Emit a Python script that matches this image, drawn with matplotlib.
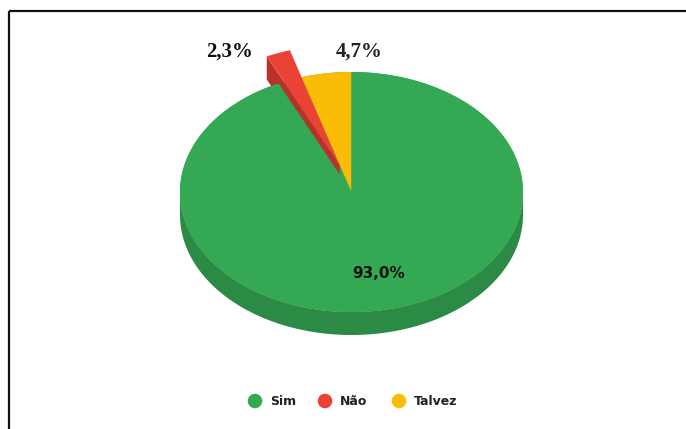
import numpy as np
import matplotlib
matplotlib.use("Agg")
import matplotlib.pyplot as plt
from matplotlib.patches import Polygon

# ---- data ----
labels = ["Sim", "Não", "Talvez"]
values = [93.0, 2.3, 4.7]
pct_labels = ["93,0%", "2,3%", "4,7%"]
explode = [0.0, 0.235, 0.0]
top_colors = ["#34A853", "#EA4335", "#FBBC05"]
side_colors = ["#2B8B45", "#B8322B", "#B98A0C"]

W, H = 686, 429
fig = plt.figure(figsize=(W / 100, H / 100), dpi=100)
ax = fig.add_axes([0, 0, 1, 1])
ax.set_xlim(0, W)
ax.set_ylim(H, 0)
ax.axis("off")

# geometry (pixels)
cx, cy, rx, ry, depth = 351.5, 192.0, 171.5, 120.0, 23.0


def pt(theta_deg, r=1.0, off=(0.0, 0.0), dz=0.0):
    t = np.radians(theta_deg)
    return (cx + rx * (r * np.cos(t) + off[0]),
            cy - ry * (r * np.sin(t) + off[1]) + dz)


def arc(a0, a1, off=(0.0, 0.0), dz=0.0, n=200):
    ts = np.linspace(a0, a1, n)
    return [pt(t, 1.0, off, dz) for t in ts]


# slice angles (clockwise from 12 o'clock)
total = sum(values)
spans = [v / total * 360 for v in values]
starts = []
a = 90.0
for s in spans:
    starts.append((a - s, a))  # math angles (lo, hi)
    a -= s

# explode each slice along its clockwise-trailing edge direction
offs = []
for (lo, hi), e in zip(starts, explode):
    d = np.radians(lo)
    offs.append((e * np.cos(d), e * np.sin(d)))

# green side band (front half)
g = 0
front_top = arc(180, 360, offs[g])
front_bot = arc(360, 180, offs[g], dz=depth)
ax.add_patch(Polygon(front_top + front_bot, closed=True,
                     facecolor=side_colors[g], edgecolor="none", zorder=1))

# base disc of the pie body (fills the gap left by the exploded slice)
ax.add_patch(Polygon(arc(0, 360, offs[g]), closed=True,
                     facecolor=top_colors[g], edgecolor="none", zorder=0.5))

# visible radial side face of exploded slices
for i in range(1, 3):
    if explode[i] > 0:
        lo, hi = starts[i]
        o = offs[i]
        ap = pt(0, 0.0, o)
        op = pt(hi, 1.0, o)
        quad = [ap, op, (op[0], op[1] + depth), (ap[0], ap[1] + depth)]
        ax.add_patch(Polygon(quad, closed=True, facecolor=side_colors[i],
                             edgecolor="none", zorder=1))

# top faces
for i, ((lo, hi), o) in enumerate(zip(starts, offs)):
    poly = [pt(0, 0.0, o)] + arc(lo, hi, o)
    z = 3 if i == 0 else 2
    ax.add_patch(Polygon(poly, closed=True, facecolor=top_colors[i],
                         edgecolor="none", zorder=z))

# percentage labels
ax.text(379, 274, pct_labels[0], ha="center", va="center", fontsize=11,
        fontweight="bold", family="DejaVu Sans", color="#111111", zorder=5)
ax.text(229.5, 52, pct_labels[1], ha="center", va="center", fontsize=15,
        fontweight="bold", family="Liberation Serif", color="#111111", zorder=5)
ax.text(359.5, 52, pct_labels[2], ha="center", va="center", fontsize=15,
        fontweight="bold", family="Liberation Serif", color="#222222", zorder=5)

# legend
leg_x = [255, 325, 399]
for lx, lab, col in zip(leg_x, labels, top_colors):
    ax.scatter([lx], [401], s=110, color=col, edgecolors="none", zorder=5)
    ax.text(lx + 15, 401.5, lab, ha="left", va="center", fontsize=9,
            fontweight="bold", family="DejaVu Sans", color="#222222", zorder=5)

# frame lines (top and left)
ax.plot([9, W], [10.5, 10.5], color="#111111", lw=1.6, zorder=6,
        solid_capstyle="butt")
ax.plot([9, 9], [10.5, H], color="#111111", lw=1.6, zorder=6,
        solid_capstyle="butt")

fig.savefig("out.png", dpi=100)
